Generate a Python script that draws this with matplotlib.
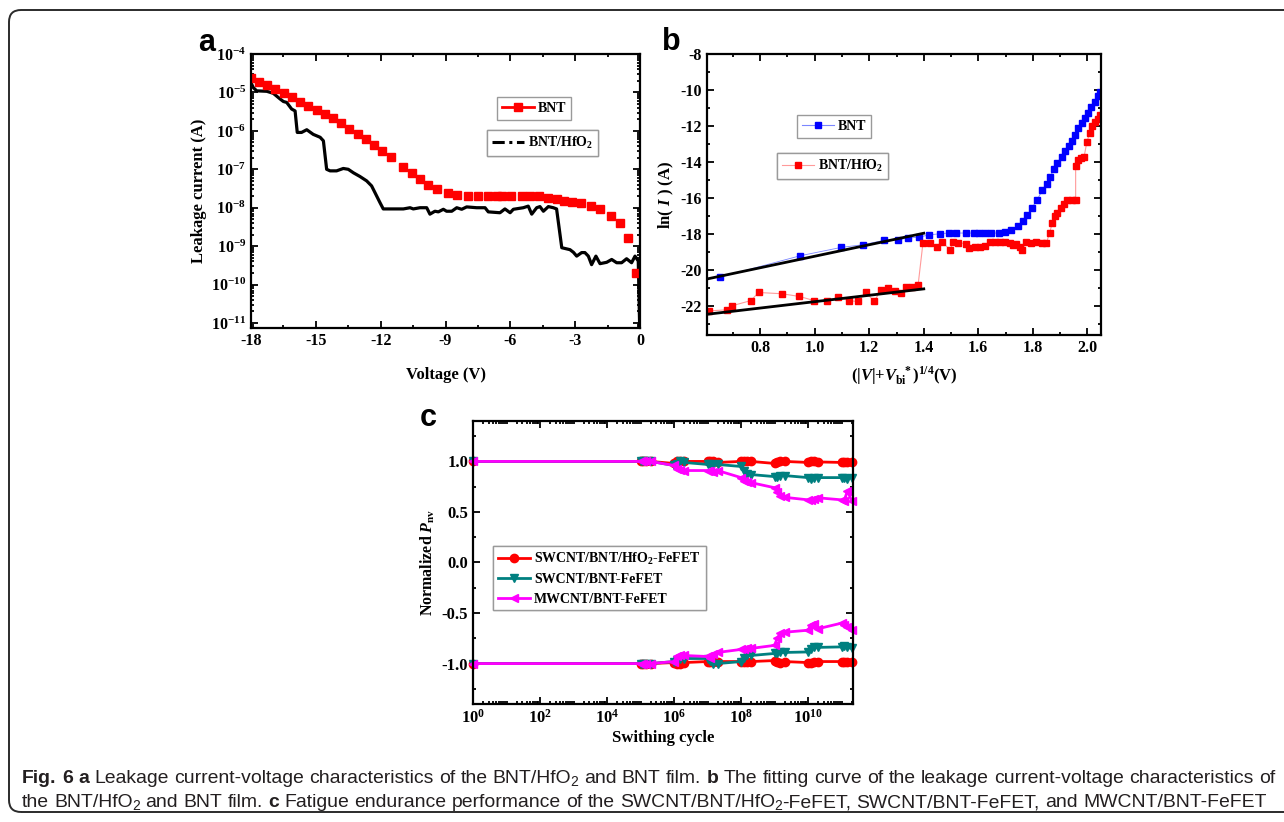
import numpy as np
import matplotlib
matplotlib.use('Agg')
import matplotlib.pyplot as plt
from matplotlib.lines import Line2D
from matplotlib.patches import FancyBboxPatch
from matplotlib.transforms import IdentityTransform
from matplotlib.ticker import MultipleLocator, LogLocator, FixedLocator, NullFormatter, LogFormatterMathtext

plt.rcParams['font.family'] = ['Liberation Serif', 'DejaVu Serif']
plt.rcParams['font.weight'] = 'bold'
plt.rcParams['axes.labelweight'] = 'bold'
plt.rcParams['axes.unicode_minus'] = False
plt.rcParams['mathtext.fontset'] = 'custom'
plt.rcParams['mathtext.rm'] = 'Liberation Serif:bold'
plt.rcParams['mathtext.it'] = 'Liberation Serif:italic:bold'
plt.rcParams['mathtext.bf'] = 'Liberation Serif:bold'

# === panel a: leakage current vs voltage ===
bnt_v_a = [-18.0, -17.63, -17.24, -16.87, -16.46, -16.12, -15.73, -15.35, -14.96, -14.58,
           -14.19, -13.84, -13.45, -13.07, -12.68, -12.29, -11.92, -11.54, -10.95, -10.57,
           -10.18, -9.79, -9.41, -8.87, -8.48, -7.96, -7.50, -7.03, -6.62, -6.39,
           -5.97, -5.46, -5.09, -4.67, -4.26, -3.84, -3.52, -3.15, -2.73, -2.27,
           -1.85, -1.34, -0.92, -0.55, -0.18]
bnt_i_a = [2.35e-5, 1.9e-5, 1.55e-5, 1.23e-5, 9.5e-6, 7.8e-6, 5.8e-6, 4.5e-6, 3.5e-6, 2.7e-6,
           2.1e-6, 1.6e-6, 1.1e-6, 8.1e-7, 6.0e-7, 4.3e-7, 3.0e-7, 2.1e-7, 1.17e-7, 7.9e-8,
           5.5e-8, 3.8e-8, 3.0e-8, 2.35e-8, 2.1e-8, 2.05e-8, 2.05e-8, 2.05e-8, 2.05e-8, 2.05e-8,
           2.05e-8, 2.05e-8, 2.05e-8, 2.0e-8, 1.8e-8, 1.66e-8, 1.5e-8, 1.41e-8, 1.32e-8, 1.12e-8,
           9.3e-9, 6.2e-9, 3.9e-9, 1.6e-9, 2.0e-10]

hfo_v_a = [-18.0, -17.9, -17.74, -17.27, -16.97, -16.66, -16.5, -16.35, -16.12, -15.96,
           -15.86, -15.66, -15.42, -15.12, -14.8, -14.65, -14.5, -14.34, -14.04, -13.73,
           -13.5, -13.26, -12.96, -12.65, -12.42, -12.26, -12.03, -11.88, -11.57, -10.95,
           -10.64, -10.49, -10.18, -9.87, -9.72, -9.49, -9.33, -9.1, -8.95, -8.71,
           -8.48, -8.25, -8.02, -7.56, -7.17, -7.02, -6.48, -6.25, -6.01, -5.86,
           -5.4, -5.17, -5.01, -4.78, -4.63, -4.47, -4.24, -4.01, -3.86, -3.62,
           -3.24, -3.08, -2.93, -2.70, -2.55, -2.39, -2.24, -2.04, -1.85, -1.54,
           -1.31, -1.08, -0.85, -0.62, -0.39, -0.23, -0.08, 0.0]
hfo_i_a = [1.8e-5, 1.35e-5, 1.1e-5, 1.07e-5, 9.5e-6, 6.8e-6, 5.8e-6, 5.5e-6, 3.7e-6, 3.3e-6,
           9.1e-7, 9.1e-7, 1.07e-6, 8.1e-7, 6.8e-7, 5.5e-7, 1.0e-7, 9.1e-8, 9.1e-8, 1.05e-7,
           1.0e-7, 8.1e-8, 6.5e-8, 5.0e-8, 3.7e-8, 2.45e-8, 1.35e-8, 9.3e-9, 9.3e-9, 9.3e-9,
           1.0e-8, 9.3e-9, 1.0e-8, 1.0e-8, 6.8e-9, 8.1e-9, 7.8e-9, 9.1e-9, 8.1e-9, 8.1e-9,
           1.0e-8, 9.1e-9, 1.05e-8, 1.0e-8, 1.0e-8, 7.8e-9, 7.4e-9, 9.3e-9, 7.4e-9, 9.1e-9,
           1.0e-8, 1.1e-8, 6.8e-9, 1.0e-8, 1.07e-8, 8.1e-9, 1.07e-8, 1.0e-8, 9.3e-9, 9.1e-10,
           8.1e-10, 6.9e-10, 5.5e-10, 6.8e-10, 6.8e-10, 5.5e-10, 3.3e-10, 5.5e-10, 3.5e-10, 3.8e-10,
           4.5e-10, 3.7e-10, 3.7e-10, 4.7e-10, 3.7e-10, 5.5e-10, 4.1e-10, 3e-12]

# === panel b: ln(I) vs (|V|+Vbi*)^(1/4) ===
bnt_x_b = [0.653, 0.947, 1.096, 1.176, 1.253, 1.304, 1.344, 1.381, 1.421, 1.458,
           1.491, 1.518, 1.555, 1.586, 1.601, 1.626, 1.648, 1.675, 1.699, 1.721,
           1.744, 1.763, 1.778, 1.797, 1.815, 1.835, 1.852, 1.864, 1.876, 1.888,
           1.907, 1.919, 1.931, 1.943, 1.955, 1.967, 1.979, 1.991, 2.003, 2.015,
           2.027, 2.039, 2.048]
bnt_y_b = [-20.39, -19.20, -18.74, -18.59, -18.35, -18.31, -18.22, -18.17, -18.04, -17.98,
           -17.94, -17.94, -17.94, -17.94, -17.94, -17.93, -17.94, -17.94, -17.90, -17.79,
           -17.54, -17.26, -16.95, -16.54, -16.11, -15.56, -15.19, -14.82, -14.41, -14.04,
           -13.70, -13.37, -13.11, -12.81, -12.50, -12.13, -11.85, -11.55, -11.25, -10.95,
           -10.65, -10.35, -10.10]

hfo_x_b = [0.614, 0.680, 0.696, 0.766, 0.794, 0.880, 0.944, 0.998, 1.045, 1.087,
           1.124, 1.157, 1.189, 1.218, 1.243, 1.269, 1.293, 1.316, 1.336, 1.357,
           1.379, 1.397, 1.423, 1.448, 1.466, 1.496, 1.509, 1.527, 1.555, 1.567,
           1.588, 1.606, 1.624, 1.643, 1.661, 1.679, 1.698, 1.716, 1.728, 1.740,
           1.753, 1.762, 1.774, 1.795, 1.813, 1.832, 1.850, 1.862, 1.871, 1.880,
           1.890, 1.902, 1.914, 1.927, 1.945, 1.957, 1.957, 1.967, 1.978, 1.988,
           1.998, 2.008, 2.018, 2.028, 2.038, 2.046]
hfo_y_b = [-22.26, -22.20, -21.98, -21.69, -21.24, -21.31, -21.46, -21.69, -21.69, -21.50,
           -21.69, -21.74, -21.24, -21.74, -21.09, -21.00, -21.13, -21.28, -20.94, -20.91,
           -20.85, -18.50, -18.47, -18.69, -18.41, -18.87, -18.41, -18.47, -18.54, -18.78,
           -18.69, -18.69, -18.65, -18.41, -18.41, -18.41, -18.41, -18.50, -18.60, -18.54,
           -18.69, -18.87, -18.41, -18.47, -18.41, -18.47, -18.47, -17.91, -17.39, -17.02,
           -16.80, -16.56, -16.32, -16.13, -16.10, -16.10, -14.24, -13.87, -13.75, -13.70,
           -12.90, -12.40, -12.00, -11.80, -11.60, -11.40]

fit_bnt_x = [0.605, 1.40]
fit_bnt_y = [-20.49, -17.95]
fit_hfo_x = [0.605, 1.40]
fit_hfo_y = [-22.45, -21.04]

# === panel c: fatigue endurance ===
cycles = [1, 1e5, 1.2e5, 1.5e5, 2e5, 1e6, 1.2e6, 1.5e6, 2e6, 1e7, 1.2e7, 1.5e7, 2e7,
          1e8, 1.2e8, 1.5e8, 2e8, 1e9, 1.2e9, 1.5e9, 2e9, 1e10, 1.2e10, 1.5e10, 2e10,
          1e11, 1.2e11, 1.5e11, 2e11]
sw_hfo_top = [1.0, 1.0, 1.0, 1.0, 1.0, 0.98, 1.0, 1.0, 1.0, 1.0, 1.0, 1.0, 0.99,
              1.0, 1.0, 1.0, 1.0, 0.98, 0.99, 1.0, 1.0, 0.99, 1.0, 1.0, 0.995,
              0.99, 0.99, 0.99, 0.99]
sw_hfo_bot = [-1.0, -1.0, -1.0, -1.0, -1.0, -0.99, -1.0, -1.0, -0.99, -0.98, -0.98, -0.98, -0.98,
              -0.98, -0.98, -0.98, -0.98, -0.97, -0.98, -0.99, -0.98, -0.99, -0.99, -0.98, -0.98,
              -0.98, -0.98, -0.98, -0.98]
sw_bnt_top = [1.0, 1.0, 1.0, 1.0, 1.0, 0.96, 0.97, 1.0, 0.99, 0.97, 0.97, 0.96, 0.97,
              0.95, 0.91, 0.88, 0.87, 0.85, 0.85, 0.86, 0.86, 0.84, 0.83, 0.84, 0.84,
              0.84, 0.84, 0.83, 0.84]
sw_bnt_bot = [-1.0, -1.0, -1.0, -1.0, -1.0, -0.98, -0.96, -0.95, -0.95, -0.95, -0.97, -1.0, -1.0,
              -0.98, -0.94, -0.92, -0.92, -0.90, -0.90, -0.89, -0.89, -0.885, -0.86, -0.84, -0.84,
              -0.835, -0.83, -0.84, -0.85]
mw_bnt_top = [1.0, 1.0, 1.0, 1.0, 1.0, 0.96, 0.93, 0.92, 0.91, 0.91, 0.91, 0.90, 0.91,
              0.84, 0.81, 0.80, 0.79, 0.74, 0.70, 0.66, 0.645, 0.62, 0.62, 0.63, 0.64,
              0.62, 0.61, 0.71, 0.61]
mw_bnt_bot = [-1.0, -1.0, -1.0, -1.0, -1.0, -0.98, -0.93, -0.92, -0.92, -0.93, -0.94, -0.91, -0.89,
              -0.86, -0.86, -0.85, -0.85, -0.82, -0.75, -0.70, -0.69, -0.67, -0.62, -0.61, -0.655,
              -0.60, -0.62, -0.64, -0.67]

W, H = 1284, 822
fig = plt.figure(figsize=(W / 100, H / 100), dpi=100)


def box(l, t, r, b):
    return [l / W, 1 - b / H, (r - l) / W, (b - t) / H]


def style_ticks(ax, size):
    ax.tick_params(which='both', direction='in', top=True, right=True, width=1.3, labelsize=size)
    ax.tick_params(which='major', length=5)
    ax.tick_params(which='minor', length=2.5)
    for s in ax.spines.values():
        s.set_linewidth(1.6)


def legend_box(ax, handles, labels, x, y, size):
    leg = ax.legend(handles, labels, loc='upper left', bbox_to_anchor=(x, y), borderaxespad=0,
                    fancybox=False, framealpha=1, edgecolor='#9a9a9a', fontsize=size,
                    handlelength=2.3, handletextpad=0.3, borderpad=0.35, labelspacing=0.45)
    leg.get_frame().set_linewidth(1.0)
    ax.add_artist(leg)
    return leg


# --- a ---
ax_a = fig.add_axes(box(251, 54, 640, 328))
ax_a.plot(hfo_v_a, hfo_i_a, color='black', lw=2.3)
ax_a.plot(bnt_v_a, bnt_i_a, ls='none', marker='s', ms=6, color='red')
ax_a.set_yscale('log')
ax_a.set_xlim(-18, 0)
ax_a.set_ylim(10 ** -11.13, 1e-4)
ax_a.xaxis.set_major_locator(MultipleLocator(3))
ax_a.xaxis.set_minor_locator(MultipleLocator(1.5))
ax_a.yaxis.set_major_locator(LogLocator(base=10, numticks=20))
ax_a.yaxis.set_minor_locator(LogLocator(base=10, subs=np.arange(2, 10), numticks=20))
ax_a.yaxis.set_minor_formatter(NullFormatter())
ax_a.yaxis.set_major_formatter(LogFormatterMathtext())
style_ticks(ax_a, 11.5)
ax_a.set_xlabel('Voltage (V)', fontsize=12, labelpad=13)
ax_a.set_ylabel('Leakage current (A)', fontsize=12, labelpad=3)
legend_box(ax_a, [Line2D([], [], color='red', lw=2, marker='s', ms=6)], ['BNT'], 0.632, 0.843, 10)
legend_box(ax_a, [Line2D([], [], color='black', lw=2.2, ls=(0, (4, 1.5, 1, 1.5)))],
           ['BNT/HfO$_2$'], 0.607, 0.723, 10)
fig.text(207 / W, 1 - 43 / H, 'a', family='Liberation Sans', weight='bold', size=22,
         ha='center', va='center')

# --- b ---
ax_b = fig.add_axes(box(707, 54, 1101, 335))
ax_b.plot(bnt_x_b, bnt_y_b, color='#7b86ff', lw=0.6, marker='s', ms=5, mfc='blue', mec='blue')
ax_b.plot(hfo_x_b, hfo_y_b, color='#ff9a9a', lw=0.8, marker='s', ms=5, mfc='red', mec='red')
ax_b.plot(fit_bnt_x, fit_bnt_y, color='black', lw=2)
ax_b.plot(fit_hfo_x, fit_hfo_y, color='black', lw=2)
ax_b.set_xlim(0.605, 2.05)
ax_b.set_ylim(-23.6, -8)
ax_b.xaxis.set_major_locator(MultipleLocator(0.2))
ax_b.xaxis.set_minor_locator(MultipleLocator(0.1))
ax_b.yaxis.set_major_locator(MultipleLocator(2))
ax_b.yaxis.set_minor_locator(MultipleLocator(1))
style_ticks(ax_b, 11.5)
ax_b.set_xlabel(r'$(|V|{+}V_{\rm bi}^{\ \ *})^{1/4}$(V)', fontsize=12, labelpad=6)
ax_b.set_ylabel(r'ln( $I$ ) (A)', fontsize=12, labelpad=3)
legend_box(ax_b, [Line2D([], [], color='#7b86ff', lw=0.8, marker='s', ms=5, mfc='blue', mec='blue')],
           ['BNT'], 0.228, 0.783, 10)
legend_box(ax_b, [Line2D([], [], color='#ff9a9a', lw=0.8, marker='s', ms=5, mfc='red', mec='red')],
           ['BNT/HfO$_2$'], 0.178, 0.648, 10)
fig.text(671 / W, 1 - 42 / H, 'b', family='Liberation Sans', weight='bold', size=22,
         ha='center', va='center')

# --- c ---
ax_c = fig.add_axes(box(473, 421, 853, 704))
series_c = [
    (sw_hfo_top, sw_hfo_bot, 'red', 'o', 'SWCNT/BNT/HfO$_2$-FeFET'),
    (sw_bnt_top, sw_bnt_bot, '#008080', 'v', 'SWCNT/BNT-FeFET'),
    (mw_bnt_top, mw_bnt_bot, '#ff00ff', '<', 'MWCNT/BNT-FeFET'),
]
handles_c = []
for top, bot, col, mk, lab in series_c:
    h, = ax_c.plot(cycles, top, color=col, marker=mk, ms=6, lw=2, clip_on=False)
    ax_c.plot(cycles, bot, color=col, marker=mk, ms=6, lw=2, clip_on=False)
    handles_c.append(h)
ax_c.set_xscale('log')
ax_c.set_xlim(1, 2.2e11)
ax_c.set_ylim(-1.4, 1.4)
ax_c.xaxis.set_major_locator(FixedLocator([1, 1e2, 1e4, 1e6, 1e8, 1e10]))
ax_c.xaxis.set_major_formatter(LogFormatterMathtext())
ax_c.xaxis.set_minor_locator(LogLocator(base=10, subs=np.arange(1, 10), numticks=40))
ax_c.xaxis.set_minor_formatter(NullFormatter())
ax_c.yaxis.set_major_locator(MultipleLocator(0.5))
ax_c.yaxis.set_minor_locator(MultipleLocator(0.25))
ax_c.yaxis.set_major_formatter(plt.FormatStrFormatter('%.1f'))
style_ticks(ax_c, 12)
ax_c.set_xlabel('Swithing cycle', fontsize=12, labelpad=2)
ax_c.set_ylabel(r'Normalized $P_{\rm nv}$', fontsize=11.5, labelpad=3)
legend_box(ax_c, handles_c, [s[4] for s in series_c], 0.053, 0.558, 10)
fig.text(428 / W, 1 - 418 / H, 'c', family='Liberation Sans', weight='bold', size=22,
         ha='center', va='center')

# === outer frame ===
frame = FancyBboxPatch((9, H - 812), 1320, 802, boxstyle='round,pad=0,rounding_size=12',
                       transform=IdentityTransform(), fill=False, lw=1.4, ec='#2b2b2b')
fig.patches.append(frame)

# === caption ===
cap_font = ['Liberation Sans', 'DejaVu Sans']
line1 = [('Fig. 6 a', 'b'), (' Leakage current-voltage characteristics of the BNT/HfO', 'n'), ('2', 's'),
         (' and BNT film. ', 'n'), ('b', 'b'),
         (' The fitting curve of the leakage current-voltage characteristics of', 'n')]
line2 = [('the BNT/HfO', 'n'), ('2', 's'), (' and BNT film. ', 'n'), ('c', 'b'),
         (' Fatigue endurance performance of the SWCNT/BNT/HfO', 'n'), ('2', 's'),
         ('-FeFET, SWCNT/BNT-FeFET, and MWCNT/BNT-FeFET', 'n')]

renderer = fig.canvas.get_renderer()


def word_width(s, size, weight):
    t = fig.text(0, 0, s, family=cap_font, size=size, weight=weight, transform=IdentityTransform())
    w = t.get_window_extent(renderer).width
    t.remove()
    return w


def caption_line(segs, x0, y0, size, draw=True):
    x = x0
    sp = word_width('a a', size, 'normal') - word_width('aa', size, 'normal')
    for txt, st in segs:
        weight = 'bold' if st == 'b' else 'normal'
        fs = size * 0.72 if st == 's' else size
        dy = -size * 0.22 if st == 's' else 0
        if st == 's':
            x -= 1
        for k, wd in enumerate(txt.split(' ')):
            if k > 0:
                x += sp
            if wd == '':
                continue
            if draw:
                fig.text(x, y0 + dy, wd, family=cap_font, size=fs, weight=weight, color='#231f20',
                         transform=IdentityTransform(), va='baseline')
            x += word_width(wd, fs, weight)
    return x - x0


base_size = 12.5
wid = caption_line(line1, 0, 0, base_size, draw=False)
cap_size = base_size * (1275 - 22) / wid
caption_line(line1, 22, H - 783, cap_size)
caption_line(line2, 22, H - 807, cap_size)

fig.savefig('out.png', dpi=100)
